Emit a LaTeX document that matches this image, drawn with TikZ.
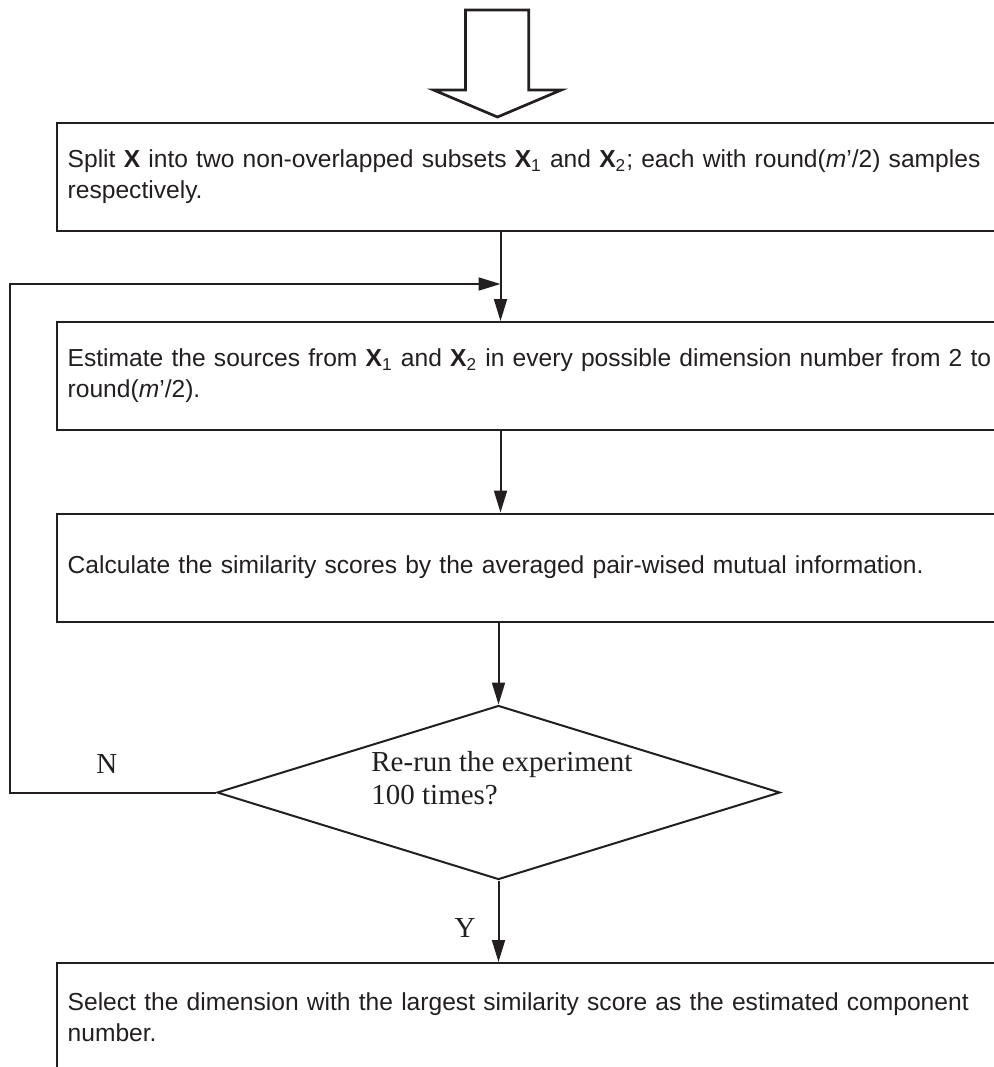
\documentclass[tikz,border=0pt]{standalone}
\usepackage{fontspec}
\setmainfont{Liberation Sans}
\newfontfamily\serifrm{Liberation Serif}
\usepackage{tikz}
\usetikzlibrary{positioning,shapes.geometric,arrows.meta}
\definecolor{ink}{HTML}{231F20}

\begin{document}
\begin{tikzpicture}[x=0.5pt,y=-0.5pt,
  stepbox/.style={draw=ink, line width=1pt, rectangle, anchor=north west, text width=470pt, inner xsep=5.5pt, inner ysep=0pt, minimum height=54pt, align=left, text=ink, font=\fontsize{12.3}{15.5}\selectfont},
  decision/.style={draw=ink, line width=1pt, diamond, minimum width=281.5pt, minimum height=87pt, inner sep=0pt},
  flow/.style={draw=ink, line width=1pt, -{Triangle[length=11pt,width=6.5pt]}},
  yesno/.style={text=ink, inner sep=0pt, font=\serifrm\fontsize{14.5}{16.5}\selectfont}]
\useasboundingbox (0,0) rectangle (994,1067);
\clip (0,0) rectangle (994,1067);
\draw[ink, line width=1.35pt] (465.4,10) -- (528.8,10) -- (528.8,90) -- (561.3,90) -- (497.5,117) -- (433.6,90) -- (465.4,90) -- cycle;

\node[stepbox] (split) at (55.7,122) {Split \textbf{X} into two non-overlapped subsets \textbf{X}\textsubscript{1} and \textbf{X}\textsubscript{2}; each with round(\textit{m}’/2) samples\\respectively.};
\node[stepbox] (estimate) at (55.7,321) {Estimate the sources from \textbf{X}\textsubscript{1} and \textbf{X}\textsubscript{2} in every possible dimension number from 2 to\\round(\textit{m}’/2).};
\node[stepbox] (calc) at (55.7,512.5) {Calculate the similarity scores by the averaged pair-wised mutual information.};
\node[decision] (check) at (498.5,792.5) {};
\node[yesno, align=left, anchor=west] (checktext) at (371,778) {Re-run the experiment\\100 times?};
\node[stepbox] (select) at (55.7,962) {Select the dimension with the largest similarity score as the estimated component\\number.};

\coordinate (join) at (500.5,284);
\coordinate (loopcorner) at (10,284);
\draw[flow] (split.south -| join) -- (estimate.north -| join);
\draw[flow] (check.west) -- node[yesno, pos=0.53, above=9pt]{N} (check.west -| loopcorner) -- (loopcorner) -- (join);
\draw[flow] (estimate.south -| join) -- (calc.north -| join);
\draw[flow] (calc.south -| check) -- (check.north);
\draw[flow] (check.south) -- node[yesno, pos=0.58, left=11pt]{Y} (select.north -| check);
\end{tikzpicture}
\end{document}
